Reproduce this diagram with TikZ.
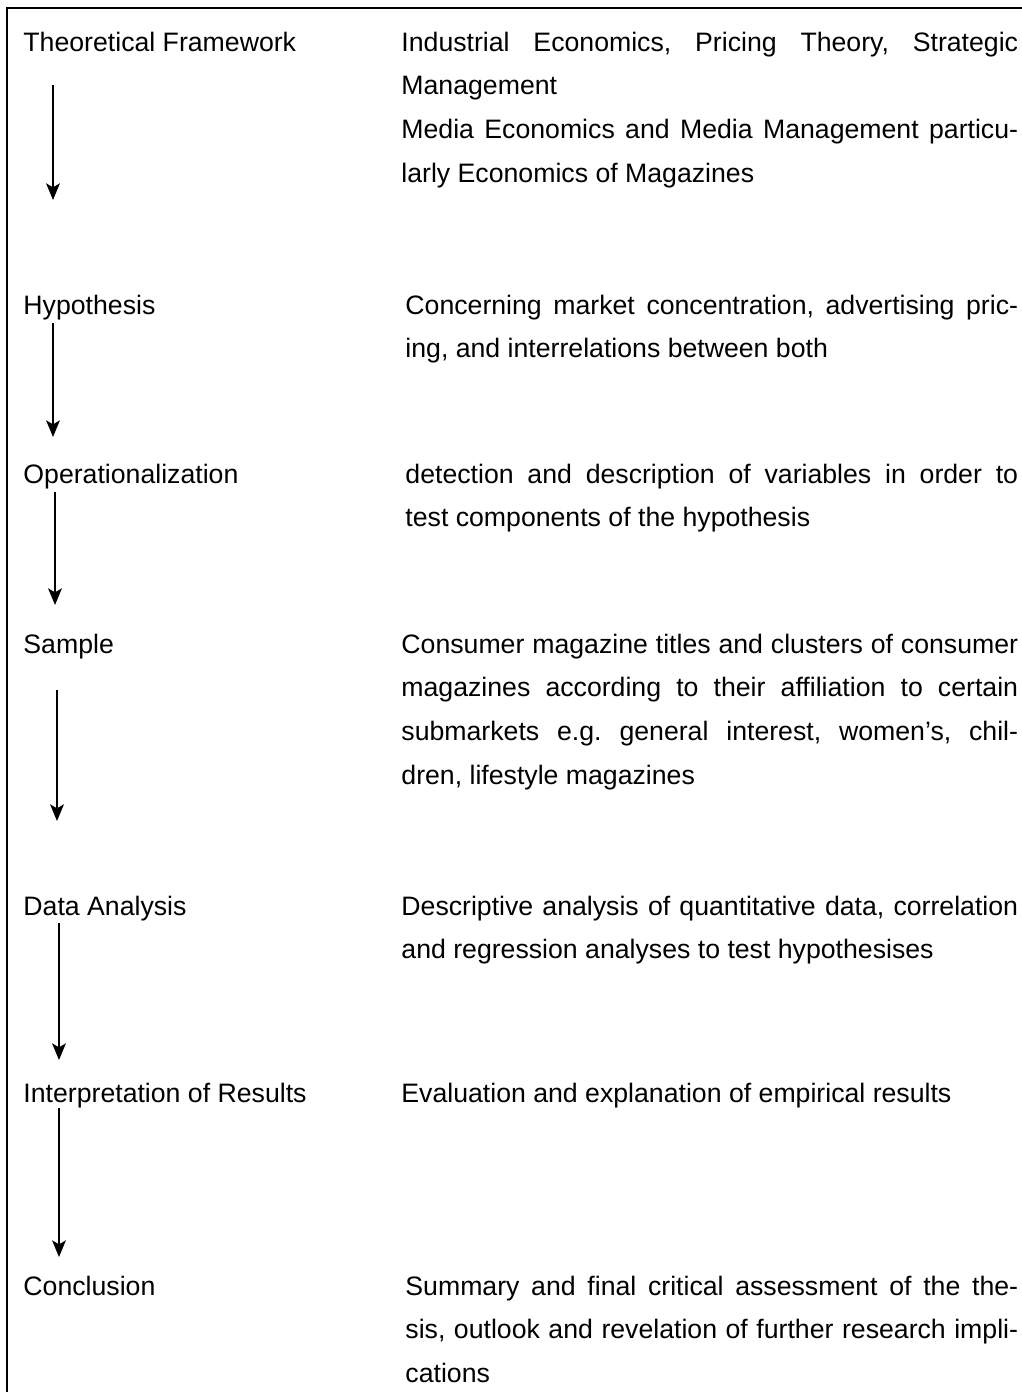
\documentclass[tikz,border=0pt]{standalone}
\usepackage{fontspec}
\setmainfont{Liberation Sans}
\usetikzlibrary{arrows.meta, positioning}
\tikzset{
  stage/.style={
    anchor=base west, inner sep=0pt, align=left,
  },
  desc/.style={
    anchor=base west, inner sep=0pt, text width=277.5pt, align=justify,
    execute at begin node={\tolerance=10000\frenchspacing\hyphenpenalty=10000},
  },
  descin/.style={desc, text width=275.7pt},
  flow/.style={
    -{Stealth[length=7.5pt, width=6.2pt, inset=1.8pt]}, line width=0.7pt, draw=black,
  },
  frame/.style={
    line width=0.9pt, draw=black,
  },
}

\begin{document}
\begin{tikzpicture}[x=0.45pt, y=-0.45pt,
  font=\fontsize{12}{19.67}\selectfont]

  \useasboundingbox (0,0) rectangle (1022,1392);

  % outer frame (only top and left visible)
  \draw[frame] (7,1392) -- (7,8) -- (1022,8);

  % stages
  \node[stage] (tf)  at (23,51)   {Theoretical Framework};
  \node[stage] (hyp) at (23,314)  {Hypothesis};
  \node[stage] (op)  at (23,483)  {Operationalization};
  \node[stage] (smp) at (23,653)  {Sample};
  \node[stage] (da)  at (23,915)  {Data Analysis};
  \node[stage] (ir)  at (23,1102) {Interpretation of Results};
  \node[stage] (con) at (23,1295) {Conclusion};

  % descriptions
  \node[desc] (dtf) at (401,51)
    {Industrial Economics, Pricing Theory, Strategic\linebreak
     Management\\
     Media Economics and Media Management particu-\linebreak
     larly Economics of Magazines};
  \node[descin] (dhyp) at (405,314)
    {Concerning market concentration, advertising pric-\linebreak
     ing, and interrelations between both};
  \node[descin] (dop) at (405,483)
    {detection and description of variables in order to\linebreak
     test components of the hypothesis};
  \node[desc] (dsmp) at (401,653)
    {Consumer magazine titles and clusters of consumer\linebreak
     magazines according to their affiliation to certain\linebreak
     submarkets e.g. general interest, women's, chil-\linebreak
     dren, lifestyle magazines};
  \node[desc] (dda) at (401,915)
    {Descriptive analysis of quantitative data, correlation\linebreak
     and regression analyses to test hypothesises};
  \node[desc] (dir) at (401,1102)
    {Evaluation and explanation of empirical results};
  \node[descin] (dcon) at (405,1295)
    {Summary and final critical assessment of the the-\linebreak
     sis, outlook and revelation of further research impli-\linebreak
     cations};

  % arrows between stages
  \foreach \i/\x/\ya/\yb in {1/53/85/200, 2/53/323/437, 3/55/492/605,
                             4/57/690/821, 5/59/923/1060, 6/59/1108/1257} {
    \coordinate (s\i) at (\x,\ya);
    \coordinate (e\i) at (\x,\yb);
    \draw[flow] (s\i) -- (e\i);
  }

\end{tikzpicture}
\end{document}
